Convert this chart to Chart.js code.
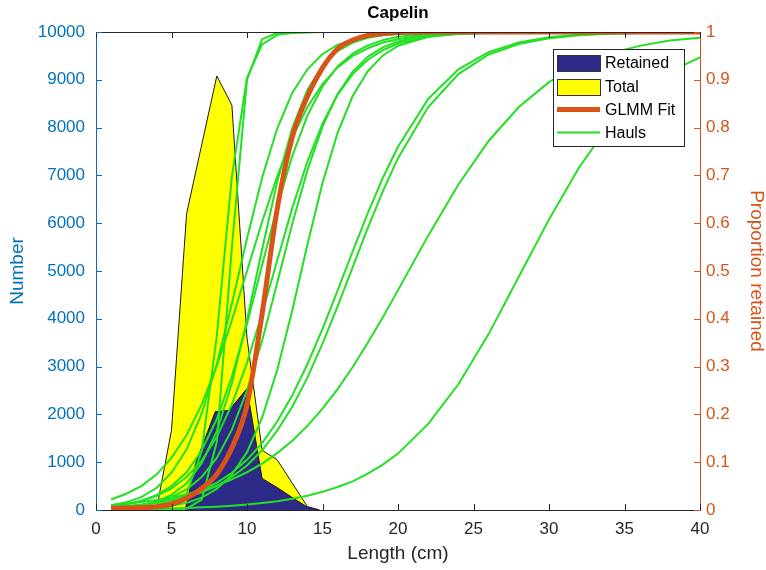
<!DOCTYPE html>
<html>
<head>
<meta charset="utf-8">
<title>Capelin</title>
<script src="https://cdn.jsdelivr.net/npm/chart.js@4.4.1/dist/chart.umd.min.js"></script>
<style>
  html, body { margin: 0; padding: 0; background: #fff; }
  #wrap { position: relative; width: 766px; height: 570px; }
</style>
</head>
<body>
<div id="wrap"><canvas id="chart"></canvas></div>
<script>
// Length-frequency polygons (left axis, number of fish)
const totalLen = [4, 5, 6, 8, 9, 10, 11, 12, 14, 14.8];
const totalNum = [0, 1670, 6200, 9080, 8470, 3600, 1250, 1050, 70, 0];
const retainedLen = [5.9, 6.6, 7.9, 8.8, 10, 11, 12, 13, 14, 14.8];
const retainedNum = [0, 980, 2060, 2080, 2540, 660, 470, 260, 60, 0];

// Selection curves (right axis, proportion retained)
const curveLen = [1, 2, 3, 4, 5, 6, 7, 8, 9, 10, 11, 12, 13, 14, 15, 16, 17, 18, 19, 20,
                  22, 24, 26, 28, 30, 32, 34, 36, 38, 40];
const glmmFit = [0.003, 0.004, 0.005, 0.007, 0.012, 0.025, 0.045, 0.075, 0.13, 0.22,
                 0.41, 0.63, 0.78, 0.865, 0.925, 0.965, 0.983, 0.993, 0.997, 0.999,
                 1, 1, 1, 1, 1, 1, 1, 1, 1, 1];
const haul01 = [0, 0.0001, 0.0005, 0.002, 0.0085, 0.034, 0.123, 0.364, 0.698, 0.904,
                0.974, 0.994, 0.998, 0.999, 1, 1, 1, 1, 1, 1,
                1, 1, 1, 1, 1, 1, 1, 1, 1, 1];
const haul02 = [0, 0, 0, 0.0001, 0.0004, 0.003, 0.022, 0.142, 0.55, 0.90,
                0.985, 0.998, 0.9997, 1, 1, 1, 1, 1, 1, 1,
                1, 1, 1, 1, 1, 1, 1, 1, 1, 1];
const haul03 = [0.0092, 0.016, 0.027, 0.046, 0.078, 0.127, 0.202, 0.305, 0.432, 0.568,
                0.695, 0.798, 0.873, 0.922, 0.954, 0.973, 0.984, 0.991, 0.995, 0.997,
                0.999, 1, 1, 1, 1, 1, 1, 1, 1, 1];
const haul04 = [0.022, 0.034, 0.050, 0.074, 0.109, 0.157, 0.221, 0.302, 0.397, 0.5,
                0.603, 0.698, 0.779, 0.843, 0.891, 0.926, 0.950, 0.966, 0.978, 0.985,
                0.994, 0.997, 0.999, 1, 1, 1, 1, 1, 1, 1];
const haul05 = [0.003, 0.0054, 0.0098, 0.0176, 0.0317, 0.056, 0.098, 0.165, 0.265, 0.397,
                0.545, 0.686, 0.799, 0.879, 0.930, 0.960, 0.978, 0.988, 0.993, 0.996,
                0.999, 1, 1, 1, 1, 1, 1, 1, 1, 1];
const haul06 = [0.007, 0.0115, 0.019, 0.031, 0.050, 0.079, 0.125, 0.190, 0.279, 0.389,
                0.512, 0.634, 0.741, 0.825, 0.886, 0.928, 0.955, 0.972, 0.983, 0.990,
                0.996, 0.9986, 0.9995, 1, 1, 1, 1, 1, 1, 1];
const haul07 = [0.0077, 0.012, 0.019, 0.029, 0.045, 0.069, 0.103, 0.153, 0.221, 0.308,
                0.411, 0.522, 0.632, 0.729, 0.808, 0.869, 0.912, 0.942, 0.962, 0.976,
                0.990, 0.996, 0.998, 0.9993, 1, 1, 1, 1, 1, 1];
const haul08 = [0.0037, 0.006, 0.010, 0.016, 0.027, 0.043, 0.069, 0.109, 0.168, 0.250,
                0.354, 0.475, 0.599, 0.711, 0.802, 0.870, 0.917, 0.948, 0.968, 0.980,
                0.993, 0.997, 0.999, 1, 1, 1, 1, 1, 1, 1];
const haul09 = [0.001, 0.0017, 0.0029, 0.005, 0.0087, 0.015, 0.026, 0.044, 0.074, 0.121,
                0.193, 0.293, 0.418, 0.555, 0.684, 0.789, 0.866, 0.918, 0.951, 0.971,
                0.990, 0.997, 0.999, 1, 1, 1, 1, 1, 1, 1];
const haul10 = [0.006, 0.0083, 0.0115, 0.016, 0.022, 0.030, 0.042, 0.057, 0.078, 0.105,
                0.140, 0.185, 0.240, 0.305, 0.379, 0.459, 0.541, 0.621, 0.695, 0.760,
                0.860, 0.922, 0.958, 0.978, 0.989, 0.994, 0.997, 0.998, 0.999, 1];
const haul11 = [0.0052, 0.0073, 0.010, 0.014, 0.019, 0.027, 0.037, 0.050, 0.069, 0.093,
                0.125, 0.166, 0.216, 0.277, 0.348, 0.426, 0.508, 0.590, 0.667, 0.736,
                0.843, 0.912, 0.953, 0.975, 0.987, 0.993, 0.9965, 0.998, 0.999, 0.9995];
const haul12 = [0.0107, 0.0134, 0.0168, 0.021, 0.026, 0.033, 0.041, 0.051, 0.064, 0.079,
                0.097, 0.119, 0.145, 0.176, 0.212, 0.253, 0.299, 0.350, 0.403, 0.460,
                0.574, 0.681, 0.772, 0.843, 0.895, 0.931, 0.955, 0.971, 0.982, 0.988];
const haul13 = [0.0013, 0.0016, 0.0021, 0.0027, 0.0034, 0.0043, 0.0055, 0.007, 0.009, 0.0114,
                0.0146, 0.0185, 0.0236, 0.030, 0.038, 0.048, 0.060, 0.076, 0.095, 0.118,
                0.180, 0.263, 0.368, 0.488, 0.608, 0.717, 0.806, 0.871, 0.917, 0.947];
const hauls = [haul01, haul02, haul03, haul04, haul05, haul06, haul07,
               haul08, haul09, haul10, haul11, haul12, haul13];

const xTicks = [0, 5, 10, 15, 20, 25, 30, 35, 40];

const COL_LEFT = '#0072BD';
const COL_RIGHT = '#D95319';
const COL_AXIS = '#262626';
const COL_GREEN = '#22E022';
const COL_RETAINED = '#2E2B88';
const COL_TOTAL = '#FFFF00';
const FONT = "'Liberation Sans', Arial, Helvetica, sans-serif";

const pairs = (xs, ys) => xs.map((x, i) => ({ x: x, y: ys[i] }));

const datasets = [];
hauls.forEach((h, i) => {
  datasets.push({
    label: 'Hauls',
    data: pairs(curveLen, h),
    yAxisID: 'y1',
    borderColor: COL_GREEN,
    borderWidth: 2,
    pointRadius: 0,
    tension: 0,
    fill: false,
    order: 2
  });
});
datasets.push({
  label: 'GLMM Fit',
  data: pairs(curveLen, glmmFit),
  yAxisID: 'y1',
  borderColor: COL_RIGHT,
  borderWidth: 5,
  pointRadius: 0,
  cubicInterpolationMode: 'monotone',
  fill: false,
  order: 1
});
datasets.push({
  label: 'Retained',
  data: pairs(retainedLen, retainedNum),
  yAxisID: 'y',
  borderColor: '#1a1a1a',
  borderWidth: 1,
  backgroundColor: COL_RETAINED,
  pointRadius: 0,
  tension: 0,
  fill: 'origin',
  order: 5
});
datasets.push({
  label: 'Total',
  data: pairs(totalLen, totalNum),
  yAxisID: 'y',
  borderColor: '#1a1a1a',
  borderWidth: 1,
  backgroundColor: COL_TOTAL,
  pointRadius: 0,
  tension: 0,
  fill: 'origin',
  order: 6
});

// inward tick marks, top box edge and the title, MATLAB style
const axisDecor = {
  id: 'axisDecor',
  afterDatasetsDraw(chart) {
    const { ctx, chartArea: a, scales } = chart;
    const len = 6;
    ctx.save();
    ctx.lineWidth = 1;
    ctx.strokeStyle = COL_AXIS;
    ctx.beginPath();
    ctx.moveTo(a.left, a.top + 0.5);
    ctx.lineTo(a.right, a.top + 0.5);
    scales.x.ticks.forEach(t => {
      const px = Math.round(scales.x.getPixelForValue(t.value)) + 0.5;
      ctx.moveTo(px, a.bottom);
      ctx.lineTo(px, a.bottom - len);
      ctx.moveTo(px, a.top);
      ctx.lineTo(px, a.top + len);
    });
    ctx.stroke();

    ctx.strokeStyle = COL_LEFT;
    ctx.beginPath();
    scales.y.ticks.forEach(t => {
      const py = Math.round(scales.y.getPixelForValue(t.value)) + 0.5;
      ctx.moveTo(a.left, py);
      ctx.lineTo(a.left + len, py);
    });
    ctx.stroke();

    ctx.strokeStyle = COL_RIGHT;
    ctx.beginPath();
    scales.y1.ticks.forEach(t => {
      const py = Math.round(scales.y1.getPixelForValue(t.value)) + 0.5;
      ctx.moveTo(a.right, py);
      ctx.lineTo(a.right - len, py);
    });
    ctx.stroke();

    ctx.fillStyle = '#000';
    ctx.font = 'bold 17px ' + FONT;
    ctx.textAlign = 'center';
    ctx.textBaseline = 'middle';
    ctx.fillText('Capelin', (a.left + a.right) / 2, 13);
    ctx.restore();
  }
};

// legend box in the upper right of the plot
const boxLegend = {
  id: 'boxLegend',
  afterDraw(chart) {
    const ctx = chart.ctx;
    const bx = 553, by = 49, bw = 131, bh = 97;
    ctx.save();
    ctx.fillStyle = '#fff';
    ctx.fillRect(bx, by, bw, bh);
    ctx.strokeStyle = COL_AXIS;
    ctx.lineWidth = 1;
    ctx.strokeRect(bx + 0.5, by + 0.5, bw, bh);

    const rows = [
      { text: 'Retained', kind: 'patch', color: COL_RETAINED, y: 63 },
      { text: 'Total', kind: 'patch', color: COL_TOTAL, y: 87 },
      { text: 'GLMM Fit', kind: 'line', color: COL_RIGHT, width: 5, y: 109.5 },
      { text: 'Hauls', kind: 'line', color: COL_GREEN, width: 2, y: 132.5 }
    ];
    rows.forEach(r => {
      if (r.kind === 'patch') {
        ctx.fillStyle = r.color;
        ctx.fillRect(557, r.y - 8, 43, 16);
        ctx.strokeStyle = '#333';
        ctx.strokeRect(557.5, r.y - 7.5, 43, 16);
      } else {
        ctx.strokeStyle = r.color;
        ctx.lineWidth = r.width;
        ctx.beginPath();
        ctx.moveTo(557, r.y);
        ctx.lineTo(600, r.y);
        ctx.stroke();
        ctx.lineWidth = 1;
      }
      ctx.fillStyle = '#000';
      ctx.font = '16px ' + FONT;
      ctx.textAlign = 'left';
      ctx.textBaseline = 'middle';
      ctx.fillText(r.text, 605, r.y + 1);
    });
    ctx.restore();
  }
};

new Chart(document.getElementById('chart'), {
  type: 'line',
  data: { datasets: datasets },
  options: {
    responsive: true,
    maintainAspectRatio: false,
    devicePixelRatio: 1,
    animation: false,
    layout: { padding: { top: 32, left: 0, right: 0, bottom: 0 } },
    plugins: {
      legend: { display: false },
      tooltip: { enabled: false },
      title: { display: false }
    },
    scales: {
      x: {
        type: 'linear',
        min: 0,
        max: 40,
        afterBuildTicks: s => { s.ticks = xTicks.map(v => ({ value: v })); },
        afterFit: s => { s.height = 60; },
        grid: { display: true, drawOnChartArea: false, drawTicks: false },
        border: { display: true, color: COL_AXIS, width: 1 },
        ticks: { color: COL_AXIS, padding: 9, font: { family: FONT, size: 17 } },
        title: {
          display: true, text: 'Length (cm)', color: COL_AXIS,
          font: { family: FONT, size: 19, lineHeight: 1 },
          padding: { top: 0, bottom: 7 }
        }
      },
      y: {
        position: 'left',
        min: 0,
        max: 10000,
        afterFit: s => { s.width = 96; },
        grid: { display: true, drawOnChartArea: false, drawTicks: false },
        border: { display: true, color: COL_LEFT, width: 1 },
        ticks: {
          stepSize: 1000, color: COL_LEFT, padding: 11,
          font: { family: FONT, size: 17 },
          callback: v => String(v)
        },
        title: {
          display: true, text: 'Number', color: COL_LEFT,
          font: { family: FONT, size: 19, lineHeight: 1 },
          padding: { top: 8, bottom: 0 }
        }
      },
      y1: {
        position: 'right',
        min: 0,
        max: 1,
        afterFit: s => { s.width = 66; },
        grid: { display: true, drawOnChartArea: false, drawTicks: false },
        border: { display: true, color: COL_RIGHT, width: 1 },
        ticks: {
          stepSize: 0.1, color: COL_RIGHT, padding: 6,
          font: { family: FONT, size: 17 },
          callback: v => String(Math.round(v * 10) / 10)
        },
        title: {
          display: true, text: 'Proportion retained', color: COL_RIGHT,
          font: { family: FONT, size: 19, lineHeight: 1 },
          padding: { top: 0, bottom: 0 }
        }
      }
    }
  },
  plugins: [axisDecor, boxLegend]
});
</script>
</body>
</html>
